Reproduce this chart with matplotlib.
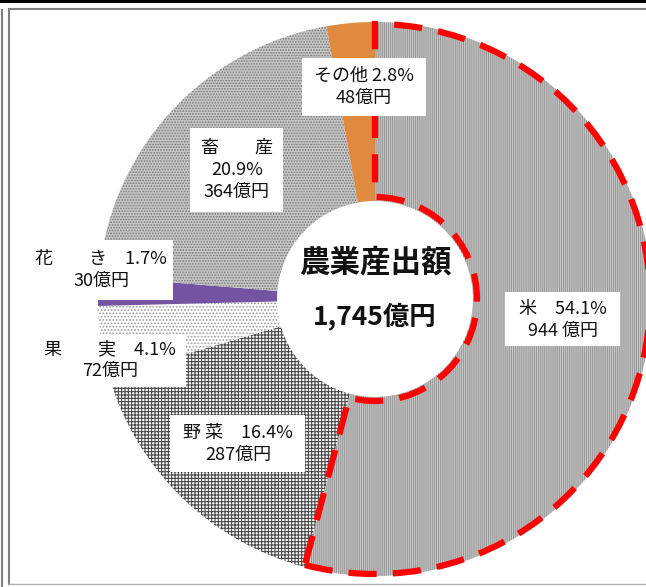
import matplotlib
matplotlib.use('Agg')
import matplotlib.pyplot as plt
from matplotlib.patches import Wedge, Rectangle

plt.rcParams['font.family'] = ['Noto Sans CJK JP', 'DejaVu Sans']
plt.rcParams['hatch.linewidth'] = 0.8

W, H = 646, 587

# data, clockwise from 12 o'clock
categories = ['米', '野菜', '果実', '花き', '畜産', 'その他']
label_names = ['米', '野 菜', '果　　実', '花　　き', '畜　　産', 'その他']
shares = [54.1, 16.4, 4.1, 1.7, 20.9, 2.8]
amounts = [944, 287, 72, 30, 364, 48]
total_label = '1,745億円'
title_label = '農業産出額'

# styles per slice
face_colors = ['#c8c8c8', '#ffffff', '#ffffff', '#7553a3', '#c6c6c6', '#df8a3e']
hatch_colors = ['#9a9a9a', '#4a4a4a', '#9a9a9a', '#7553a3', '#7a7a7a', '#df8a3e']
hatches = ['||||||||', '+++++', '.....', '', '......', '']

fig = plt.figure(figsize=(W / 100, H / 100), dpi=100)
ax = fig.add_axes([0, 0, 1, 1])

cx, cy = 375, H - 299
R, r_in = 277, 98

wedges, _ = ax.pie(shares, startangle=90, counterclock=False, center=(cx, cy),
                   radius=R, colors=face_colors,
                   wedgeprops=dict(width=R - r_in, linewidth=0))
for w, h, ec in zip(wedges, hatches, hatch_colors):
    w.set_hatch(h)
    w.set_edgecolor(ec)
    w.set_linewidth(0)

# red dashed outline around the rice slice
rice = wedges[0]
ax.add_patch(Wedge((cx, cy), R - 2, rice.theta1, rice.theta2, width=R - r_in - 6,
                   fill=False, edgecolor='red', linewidth=4.5,
                   linestyle=(0, (4.5, 2.6)), zorder=5))

# label boxes: (x0, y0, x1, y1) in pixels from top-left, and text centre
boxes = {
    '米': ((505, 292, 620, 346), (563, 320)),
    '野菜': ((170, 415, 305, 472), (238, 444)),
    '果実': ((40, 334, 186, 387), (110, 360)),
    '花き': ((30, 240, 173, 300), (101, 270)),
    '畜産': ((190, 128, 283, 212), (237, 170)),
    'その他': ((302, 58, 426, 116), (364, 87)),
}

for cat, name, pct, amt in zip(categories, label_names, shares, amounts):
    (x0, y0, x1, y1), (tx, ty) = boxes[cat]
    ax.add_patch(Rectangle((x0, H - y1), x1 - x0, y1 - y0, facecolor='white',
                           edgecolor='none', zorder=6))
    if cat == '畜産':
        txt = f'{name}\n{pct}%\n{amt}億円'
    elif cat == '米':
        txt = f'{name}　{pct}%\n{amt} 億円'
    elif cat == 'その他':
        txt = f'{name} {pct}%\n{amt}億円'
    else:
        txt = f'{name}　{pct}%\n{amt}億円'
    ax.text(tx, H - ty, txt, ha='center', va='center', fontsize=13,
            linespacing=1.3, color='#111111', zorder=7)

# centre text
ax.text(cx, H - 262, title_label, ha='center', va='center', fontsize=22,
        fontweight='bold', color='#111111', zorder=7)
ax.text(cx, H - 316, total_label, ha='center', va='center', fontsize=19,
        fontweight='bold', color='#111111', zorder=7)

# frame lines
ax.add_patch(Rectangle((0, H - 3), W, 3, facecolor='black', edgecolor='none', zorder=8))
ax.plot([1.5, 1.5], [0, H - 10], color='#808080', lw=1.5, zorder=8)
ax.plot([8.5, 8.5], [H - 584, H - 8.5], color='#808080', lw=1.5, zorder=8)
ax.plot([8.5, W], [H - 8.5, H - 8.5], color='#808080', lw=1.5, zorder=8)
ax.plot([8.5, W], [H - 584, H - 584], color='#b0b0b0', lw=1, zorder=8)

ax.set_xlim(0, W)
ax.set_ylim(0, H)
ax.axis('off')

fig.savefig('out.png', dpi=100)
